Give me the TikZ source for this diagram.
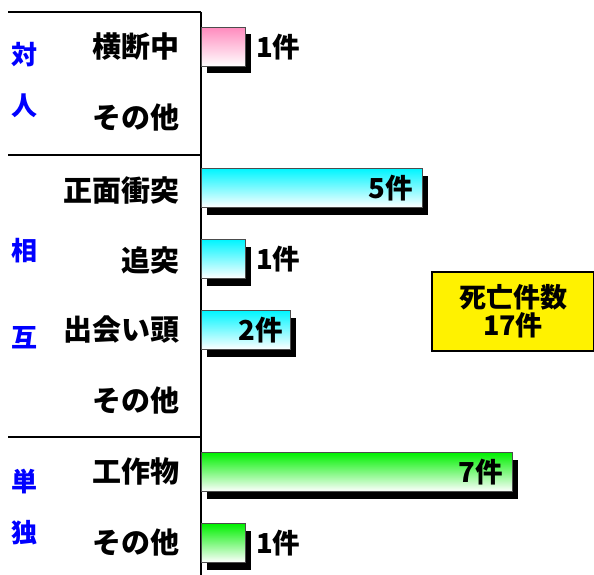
\documentclass[tikz,border=0pt]{standalone}
\usepackage{fontspec}
\setmainfont{Noto Sans CJK JP}
\usepackage{tikz}
\usetikzlibrary{shadows}
\pgfdeclarelayer{edgelayer}
\pgfdeclarelayer{nodelayer}
\pgfsetlayers{edgelayer,nodelayer,main}
\tikzstyle{none}=[inner sep=0pt]
\tikzstyle{group}=[inner sep=0pt, text=blue, font=\fontsize{26}{26}\selectfont\bfseries]
\tikzstyle{kind}=[inner sep=0pt, anchor=east, font=\fontsize{29}{29}\selectfont\bfseries]
\tikzstyle{bar}=[rectangle, anchor=west, inner sep=0pt, minimum height=39pt, draw=black!70, line width=0.8pt, bottom color=white, drop shadow={shadow xshift=6pt, shadow yshift=-7pt, fill=black, opacity=1}]
\tikzstyle{count}=[inner sep=0pt, font=\fontsize{27.5}{27.5}\selectfont\bfseries]
\tikzstyle{rule}=[line width=1.6pt]
\definecolor{barpink}{RGB}{255,140,190}
\definecolor{barcyan}{RGB}{0,245,255}
\definecolor{bargreen}{RGB}{0,240,0}

\begin{document}
\begin{tikzpicture}[x=1pt, y=1pt]
	\useasboundingbox (0,0) rectangle (594,-575);
	\begin{pgfonlayer}{nodelayer}
		\node [style=none] (0) at (201, -12) {};
		\node [style=none] (1) at (201, -575) {};
		\node [style=none] (2) at (8, -12) {};
		\node [style=none] (3) at (8, -155) {};
		\node [style=none] (4) at (201, -155) {};
		\node [style=none] (5) at (8, -437) {};
		\node [style=none] (6) at (201, -437) {};
		% groups
		\node [style=group] (g1) at (25, -55) {対};
		\node [style=group] (g2) at (25, -106) {人};
		\node [style=group] (g3) at (25, -251) {相};
		\node [style=group] (g4) at (25, -338) {互};
		\node [style=group] (g5) at (25, -482) {単};
		\node [style=group] (g6) at (25, -533) {独};
		% kinds
		\node [style=kind] (k1) at (180, -47) {横断中};
		\node [style=kind] (k2) at (180, -118) {その他};
		\node [style=kind] (k3) at (180, -190) {正面衝突};
		\node [style=kind] (k4) at (180, -260) {追突};
		\node [style=kind] (k5) at (180, -330) {出会い頭};
		\node [style=kind] (k6) at (180, -401) {その他};
		\node [style=kind] (k7) at (180, -471) {工作物};
		\node [style=kind] (k8) at (180, -543) {その他};
		% bars
		\node [style=bar, top color=barpink, minimum width=44pt] (b1) at (201, -47) {};
		\node [style=bar, top color=barcyan, minimum width=221pt] (b3) at (201, -188) {};
		\node [style=bar, top color=barcyan, minimum width=44pt] (b4) at (201, -259) {};
		\node [style=bar, top color=barcyan, minimum width=89pt] (b5) at (201, -330) {};
		\node [style=bar, top color=bargreen, minimum width=311pt] (b7) at (201, -472) {};
		\node [style=bar, top color=bargreen, minimum width=44pt] (b8) at (201, -543) {};
		\node [style=count, anchor=west] (n1) at ([xshift=10pt]b1.east) {1件};
		\node [style=count, anchor=east] (n3) at ([xshift=-10pt]b3.east) {5件};
		\node [style=count, anchor=west] (n4) at ([xshift=10pt]b4.east) {1件};
		\node [style=count, anchor=east] (n5) at ([xshift=-8pt]b5.east) {2件};
		\node [style=count, anchor=east] (n7) at ([xshift=-10pt]b7.east) {7件};
		\node [style=count, anchor=west] (n8) at ([xshift=10pt]b8.east) {1件};
		% total
		\node [draw=black, line width=1.2pt, fill=yellow, minimum width=162pt, minimum height=79pt, align=center, inner sep=0pt, font=\fontsize{27}{28}\selectfont\bfseries] (t) at (513, -311.5) {死亡件数\\17件};
	\end{pgfonlayer}
	\begin{pgfonlayer}{edgelayer}
		\draw [style=rule] (0.center) to (1.center);
		\draw [style=rule] (2.center) to (0.center);
		\draw [style=rule] (3.center) to (4.center);
		\draw [style=rule] (5.center) to (6.center);
	\end{pgfonlayer}
\end{tikzpicture}
\end{document}
